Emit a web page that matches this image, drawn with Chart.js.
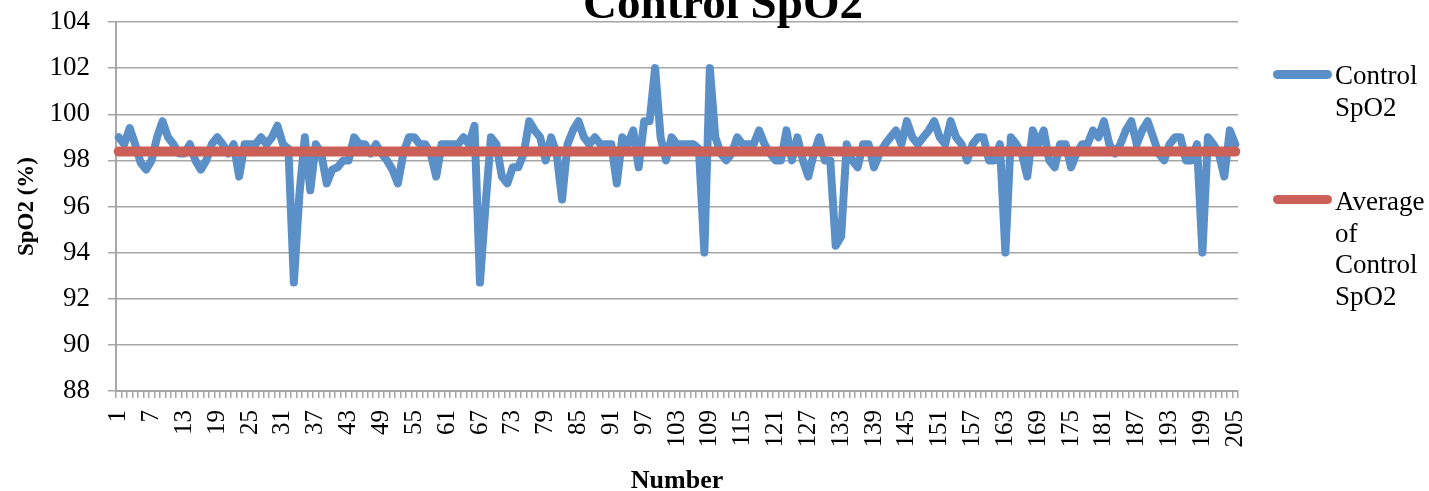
<!DOCTYPE html>
<html>
<head>
<meta charset="utf-8">
<title>Control SpO2</title>
<script src="https://cdn.jsdelivr.net/npm/chart.js@4.4.1/dist/chart.umd.min.js"></script>
<style>
    body { margin: 0; background: #fff; }
    #wrap { position: relative; width: 1429px; height: 491px; overflow: hidden; font-family: "Liberation Serif", serif; color: #000; }
    #chart { position: absolute; left: 0; top: 0; }
    #title { position: absolute; left: 0; top: -21px; width: 1446px; text-align: center; font-size: 47px; line-height: 46px; font-weight: bold; }
    .legend-item { position: absolute; left: 1273px; }
    .swatch { position: absolute; left: 0; width: 59px; height: 9px; border-radius: 4.5px; }
    .legend-text { position: absolute; left: 62px; top: 0; width: 110px; font-size: 27px; line-height: 31.5px; white-space: nowrap; }
</style>
</head>
<body>
<div id="wrap">
    <canvas id="chart" width="1429" height="491"></canvas>
    <div id="title">Control SpO2</div>
    <div class="legend-item" style="top: 60px;">
        <div class="swatch" style="top: 9.5px; background: #5a8fc8;"></div>
        <div class="legend-text">Control<br>SpO2</div>
    </div>
    <div class="legend-item" style="top: 186px;">
        <div class="swatch" style="top: 8.5px; background: #cb6058;"></div>
        <div class="legend-text">Average<br>of<br>Control<br>SpO2</div>
    </div>
</div>

<script>
// === Data ===
// Measurement number on the x axis (1..205)
const categories = Array.from({ length: 205 }, (_, i) => i + 1);

// SpO2 readings (%) for each measurement
const controlSpO2 = [
    99.0, 98.7, 99.4, 98.7, 97.9, 97.6, 98.0, 99.0, 99.7, 99.0,
    98.7, 98.3, 98.3, 98.7, 98.0, 97.6, 98.0, 98.7, 99.0, 98.7,
    98.3, 98.7, 97.3, 98.7, 98.7, 98.7, 99.0, 98.7, 99.0, 99.5,
    98.7, 98.5, 92.7, 96.5, 99.0, 96.7, 98.7, 98.3, 97.0, 97.6,
    97.7, 98.0, 98.0, 99.0, 98.7, 98.7, 98.3, 98.7, 98.3, 98.0,
    97.6, 97.0, 98.3, 99.0, 99.0, 98.7, 98.7, 98.3, 97.3, 98.7,
    98.7, 98.7, 98.7, 99.0, 98.7, 99.5, 92.7, 96.0, 99.0, 98.7,
    97.3, 97.0, 97.7, 97.7, 98.3, 99.7, 99.3, 99.0, 98.0, 99.0,
    98.3, 96.3, 98.7, 99.3, 99.7, 99.0, 98.7, 99.0, 98.7, 98.7,
    98.7, 97.0, 99.0, 98.7, 99.3, 97.7, 99.7, 99.7, 102.0, 99.0,
    98.0, 99.0, 98.7, 98.7, 98.7, 98.7, 98.5, 94.0, 102.0, 99.0,
    98.3, 98.0, 98.3, 99.0, 98.7, 98.7, 98.7, 99.3, 98.7, 98.3,
    98.0, 98.0, 99.3, 98.0, 99.0, 98.0, 97.3, 98.3, 99.0, 98.0,
    98.0, 94.3, 94.7, 98.7, 98.0, 97.7, 98.7, 98.7, 97.7, 98.3,
    98.7, 99.0, 99.3, 98.7, 99.7, 99.0, 98.7, 99.0, 99.3, 99.7,
    99.0, 98.7, 99.7, 99.0, 98.7, 98.0, 98.7, 99.0, 99.0, 98.0,
    98.0, 98.7, 94.0, 99.0, 98.7, 98.3, 97.3, 99.3, 98.7, 99.3,
    98.0, 97.7, 98.7, 98.7, 97.7, 98.3, 98.7, 98.7, 99.3, 99.0,
    99.7, 98.7, 98.3, 98.7, 99.3, 99.7, 98.7, 99.3, 99.7, 99.0,
    98.3, 98.0, 98.7, 99.0, 99.0, 98.0, 98.0, 98.7, 94.0, 99.0,
    98.7, 98.3, 97.3, 99.3, 98.7
];

// Mean SpO2, drawn as a flat line across all measurements
const averageSpO2 = 98.38;
const averageLine = categories.map(() => averageSpO2);

// Y axis range and step
const yMin = 88;
const yMax = 104;
const yStep = 2;

// Only every 6th measurement number gets a label
const labelEvery = 6;

// === Styles ===
const gridColor = "#a6a6a6";
const serif = "'Liberation Serif', serif";

// Pin the scale boxes so the plot area sits at a fixed spot
function fixScaleBox(scale, size) {
    if (scale.isHorizontal()) scale.height = size;
    else scale.width = size;
    scale.paddingTop = 0;
    scale.paddingBottom = 0;
    scale.paddingLeft = 0;
    scale.paddingRight = 0;
}

// === Draw the chart ===
const ctx = document.getElementById("chart").getContext("2d");
new Chart(ctx, {
    type: "line",
    data: {
        labels: categories,
        datasets: [
            {
                label: "Average of Control SpO2",
                data: averageLine,
                borderColor: "#cb6058",
                borderWidth: 10,
                borderCapStyle: "round",
                pointRadius: 0,
                order: 0 // on top of the readings
            },
            {
                label: "Control SpO2",
                data: controlSpO2,
                borderColor: "#5a8fc8",
                borderWidth: 8,
                borderJoinStyle: "round",
                borderCapStyle: "round",
                pointRadius: 0,
                tension: 0,
                order: 1
            }
        ]
    },
    options: {
        responsive: false,
        animation: false,
        devicePixelRatio: 1,
        layout: { padding: { top: 22, right: 191, left: 0, bottom: 0 } },
        plugins: {
            legend: { display: false },
            tooltip: { enabled: false }
        },
        scales: {
            x: {
                offset: true,
                grid: {
                    offset: true,
                    drawOnChartArea: false,
                    drawTicks: true,
                    tickLength: 7,
                    color: gridColor,
                    lineWidth: 1.5
                },
                border: { color: gridColor, width: 2 },
                ticks: {
                    autoSkip: false,
                    minRotation: 90,
                    maxRotation: 90,
                    padding: 12,
                    color: "#000",
                    font: { family: serif, size: 25 },
                    callback: (value, index) => (index % labelEvery === 0 ? categories[index] : "")
                },
                title: {
                    display: true,
                    text: "Number",
                    color: "#000",
                    font: { family: serif, size: 26, weight: "bold", lineHeight: 0.77 },
                    padding: { top: 0, bottom: 0 }
                },
                afterFit: scale => fixScaleBox(scale, 100)
            },
            y: {
                min: yMin,
                max: yMax,
                grid: { color: gridColor, lineWidth: 1.5, tickLength: 8 },
                border: { color: gridColor, width: 2 },
                ticks: {
                    stepSize: yStep,
                    padding: 18,
                    color: "#000",
                    font: { family: serif, size: 27 }
                },
                title: {
                    display: true,
                    text: "SpO2 (%)",
                    color: "#000",
                    font: { family: serif, size: 23, weight: "bold" },
                    padding: { top: 13, bottom: 0 }
                },
                afterFit: scale => fixScaleBox(scale, 116)
            }
        }
    }
});
</script>
</body>
</html>
